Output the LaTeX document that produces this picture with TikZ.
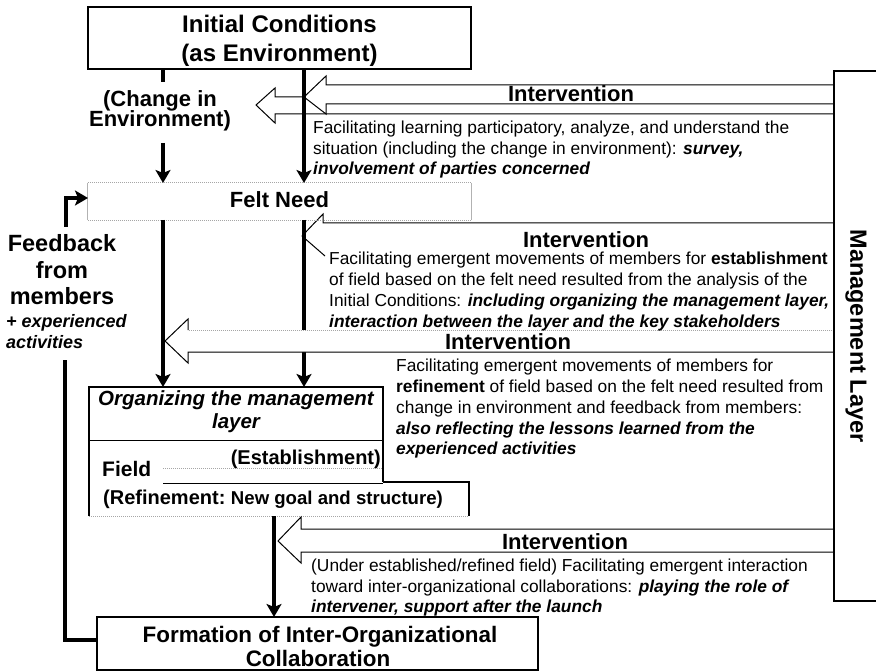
\documentclass[tikz,border=0pt]{standalone}
\usepackage{fontspec}
\setmainfont{Liberation Sans}
\usetikzlibrary{arrows.meta}
\begin{document}
\begin{tikzpicture}[x=1pt,y=-1pt,
  thk/.style={line width=4pt},
  tipd/.style={-{Stealth[length=13pt,width=15pt,inset=3pt]}},
  outl/.style={line width=1pt,line join=miter},
  dotl/.style={gray!70,line width=1pt,dash pattern=on 1pt off 1pt},
  box/.style={draw,line width=1.1pt,inner sep=0pt},
  body/.style={anchor=base west,inner sep=0pt,font=\fontsize{17.35}{20.7}\selectfont},
  lbl/.style={anchor=base,inner sep=0pt,font=\bfseries\fontsize{22}{26}\selectfont},
  bi/.style={font=\bfseries\itshape}
]
\useasboundingbox (0,0) rectangle (876,671);

% ---------- Intervention arrow 1 and small left arrow ----------
\coordinate (m1a) at (834,85);
\coordinate (m1b) at (834,104);
\coordinate (m1c) at (834,114);
\fill[white] (m1a) -- (326,85) -- (326,76) -- (304,97) -- (275,97) -- (275,88) -- (256,105) -- (275,123) -- (275,114) -- (m1c) -- cycle;
\draw[outl] (m1a) -- (326,85) -- (326,76) -- (304,97) -- (326,114) -- (326,104) -- (m1b);
\draw[outl] (304,97) -- (275,97) -- (275,88) -- (256,105) -- (275,123) -- (275,114) -- (m1c);

% ---------- Intervention arrow 2 ----------
\coordinate (m2a) at (834,223);
\draw[outl] (m2a) -- (323,223) -- (323,214) -- (302,236) -- (325,256);

% ---------- Initial conditions box ----------
\node[box,minimum width=383pt,minimum height=62pt] (ic) at (279.5,38) {};
\node[anchor=base,inner sep=0pt,font=\bfseries\fontsize{24}{28}\selectfont] (ict1) at (279.5,33) {Initial Conditions};
\node[anchor=base,inner sep=0pt,font=\bfseries\fontsize{24}{28}\selectfont] (ict2) at (279.5,62) {(as Environment)};

% change in environment
\node[anchor=base,inner sep=0pt,font=\bfseries\fontsize{22}{26}\selectfont] (ce1) at (160,107) {(Change in};
\node[anchor=base,inner sep=0pt,font=\bfseries\fontsize{22}{26}\selectfont] (ce2) at (160,127) {Environment)};

% ---------- Felt Need box ----------
\node[inner sep=0pt,minimum width=383pt,minimum height=37pt] (fn) at (279.5,201.5) {};
\draw[gray!60,line width=1pt] (fn.north west) -- (fn.south west) (fn.north east) -- (fn.south east);
\draw[dotl] (fn.north west) -- (fn.north east) (fn.south west) -- (fn.south east);
\node[anchor=base,inner sep=0pt,font=\bfseries\fontsize{22}{26}\selectfont] (fnt) at (279.5,208) {Felt Need};

% vertical arrows top
\coordinate (icL) at (163,69);
\coordinate (icLb) at (163,82);
\coordinate (ceB) at (163,143);
\coordinate (fnL) at (163,183);
\coordinate (icR) at (304,69);
\coordinate (fnR) at (304,183);
\draw[thk] (icL) -- (icLb);
\draw[thk,tipd] (ceB) -- (fnL);
\draw[thk,tipd] (icR) -- (fnR);

% ---------- Organizing box ----------
\coordinate (fnRb) at (304,220);
\coordinate (orR) at (304,387);
\draw[thk,tipd] (fnRb) -- (orR);

% Intervention arrow 3 (covers vertical line)
\coordinate (m3a) at (834,330);
\coordinate (m3b) at (834,352);
\fill[white] (m3a) -- (188,330) -- (188,319) -- (165,341) -- (188,363) -- (188,352) -- (m3b) -- cycle;
\draw[dotl] (m3a) -- (188,330);
\draw[outl] (188,330) -- (188,319) -- (165,341) -- (188,363) -- (188,352) -- (m3b);

\coordinate (fnLb) at (163,220);
\coordinate (orL) at (163,387);
\draw[thk,tipd] (fnLb) -- (orL);

% organizing box outline
\node[inner sep=0pt] (org) at (236,413) {};
\draw[line width=1.1pt] (89,516) -- (89,387) -- (383,387) -- (383,482);
\draw[line width=1pt] (89,440) -- (383,440);
\draw[dotl] (163,468) -- (383,468);
\draw[line width=1pt] (163,483) -- (383,483);
\draw[line width=1.1pt] (383,482) -- (469,482) -- (469,516);
\draw[dotl] (89,516) -- (469,516);
\node[anchor=base,inner sep=0pt,font=\bfseries\itshape\fontsize{20.5}{24}\selectfont] (orgt1) at (236,405) {Organizing the management};
\node[anchor=base,inner sep=0pt,font=\bfseries\itshape\fontsize{20.5}{24}\selectfont] (orgt2) at (236,428) {layer};
\node[anchor=base east,inner sep=0pt,font=\bfseries\fontsize{20}{24}\selectfont] (est) at (381,464) {(Establishment)};
\node[anchor=base west,inner sep=0pt,font=\bfseries\fontsize{21}{25}\selectfont] (fld) at (102,476) {Field};
\node[anchor=base west,inner sep=0pt] (ref) at (103,504) {\bfseries\fontsize{20}{24}\selectfont(Refinement:\ \fontsize{18.6}{22}\selectfont New goal and structure)};

% ---------- Intervention arrow 4 ----------
\coordinate (m4a) at (834,529);
\coordinate (m4b) at (834,552);
\draw[outl] (m4a) -- (301,529) -- (301,517) -- (278,541) -- (301,563) -- (301,552) -- (m4b);

% ---------- Formation box ----------
\node[box,minimum width=441pt,minimum height=53pt] (form) at (317.5,643.5) {};
\node[anchor=base,inner sep=0pt,font=\bfseries\fontsize{22.4}{26}\selectfont] (fo1) at (320,642) {Formation of Inter-Organizational};
\node[anchor=base,inner sep=0pt,font=\bfseries\fontsize{22.4}{26}\selectfont] (fo2) at (318,666) {Collaboration};
\coordinate (refB) at (274,516);
\coordinate (foT) at (274,617);
\draw[thk,tipd] (refB) -- (foT);

% ---------- Feedback loop ----------
\coordinate (fbA) at (97,640);
\coordinate (fbB) at (65,640);
\coordinate (fbC) at (65,360);
\draw[thk,line join=miter] (fbA) -- (fbB) -- (fbC);
\coordinate (fbD) at (66,227);
\coordinate (fbE) at (66,198);
\coordinate (fnW) at (88,198);
\draw[thk,line join=miter,tipd] (fbD) -- (fbE) -- (fnW);
\node[anchor=base,inner sep=0pt,font=\bfseries\fontsize{23.5}{27}\selectfont] (fb1) at (62,252) {Feedback};
\node[anchor=base,inner sep=0pt,font=\bfseries\fontsize{23.5}{27}\selectfont] (fb2) at (62,279) {from};
\node[anchor=base,inner sep=0pt,font=\bfseries\fontsize{23.5}{27}\selectfont] (fb3) at (62,305) {members};
\node[anchor=base west,inner sep=0pt,font=\bfseries\itshape\fontsize{18}{21}\selectfont] (fb4) at (6,327) {+ experienced};
\node[anchor=base west,inner sep=0pt,font=\bfseries\itshape\fontsize{18}{21}\selectfont] (fb5) at (6,348) {activities};

% ---------- Management layer ----------
\draw[line width=1.1pt] (876,71) -- (834,71) -- (834,601) -- (876,601);
\node[rotate=-90,inner sep=0pt,font=\bfseries\fontsize{23.5}{27}\selectfont] (ml) at (856,336) {Management Layer};

% ---------- Intervention labels ----------
\node[lbl] (iv1) at (571,102) {Intervention};
\node[lbl] (iv2) at (586,248) {Intervention};
\node[lbl] (iv3) at (508,349) {Intervention};
\node[lbl] (iv4) at (565,549) {Intervention};

% ---------- Texts ----------
\node[body] (t1a) at (313,134) {Facilitating learning participatory, analyze, and understand the};
\node[body] (t1b) at (313,155) {situation (including the change in environment): \textbf{\textit{survey,}}};
\node[body] (t1c) at (313,175) {\textbf{\textit{involvement of parties concerned}}};

\node[body] (t2a) at (329,265) {Facilitating emergent movements of members for \textbf{establishment}};
\node[body] (t2b) at (329,286) {of field based on the felt need resulted from the analysis of the};
\node[body] (t2c) at (329,306) {Initial Conditions: \textbf{\textit{including organizing the management layer,}}};
\node[body] (t2d) at (329,327) {\textbf{\textit{interaction between the layer and the key stakeholders}}};

\node[body] (t3a) at (396,371) {Facilitating emergent movements of members for};
\node[body] (t3b) at (396,392) {\textbf{refinement} of field based on the felt need resulted from};
\node[body] (t3c) at (396,413) {change in environment and feedback from members:};
\node[body] (t3d) at (396,434) {\textbf{\textit{also reflecting the lessons learned from the}}};
\node[body] (t3e) at (396,454) {\textbf{\textit{experienced activities}}};

\node[body] (t4a) at (311,571) {(Under established/refined field) Facilitating emergent interaction};
\node[body] (t4b) at (311,592) {toward inter-organizational collaborations: \textbf{\textit{playing the role of}}};
\node[body] (t4c) at (311,612) {\textbf{\textit{intervener, support after the launch}}};
\end{tikzpicture}
\end{document}
